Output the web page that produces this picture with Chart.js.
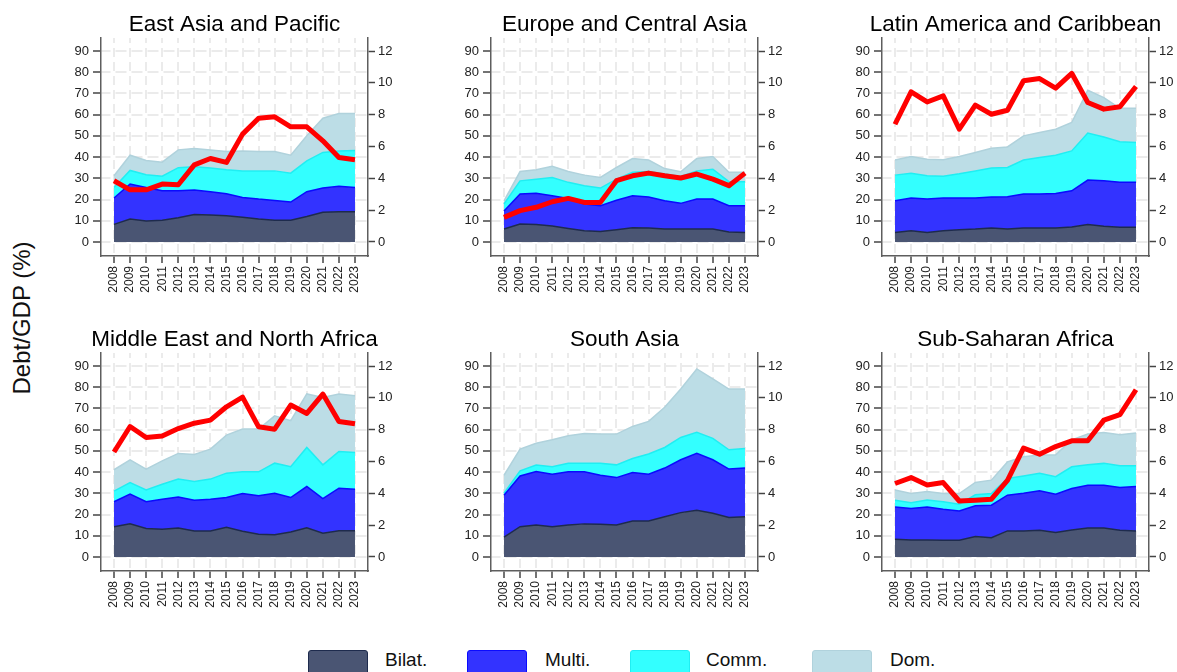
<!DOCTYPE html>
<html>
<head>
<meta charset="utf-8">
<script src="https://cdn.jsdelivr.net/npm/chart.js@4.4.1/dist/chart.umd.min.js"></script>
<style>
  body { margin: 0; background: #fff; width: 1177px; height: 672px; overflow: hidden; position: relative;
         font-family: "Liberation Sans", Arial, sans-serif; }
  canvas { position: absolute; }
  .ytitle { position: absolute; left: 22px; top: 318px; transform: translate(-50%, -50%) rotate(-90deg);
            font-size: 24px; white-space: nowrap; color: #111; }
  .leg-box { position: absolute; top: 650px; width: 60px; height: 30px; border: 1.5px solid; border-radius: 3px; box-sizing: border-box; }
  .leg-text { position: absolute; top: 649px; font-size: 19px; line-height: 22px; color: #111; white-space: nowrap; }
</style>
</head>
<body>
<div class="ytitle">Debt/GDP (%)</div>
<script>
// ---- data ----
const years = [2008, 2009, 2010, 2011, 2012, 2013, 2014, 2015, 2016, 2017, 2018, 2019, 2020, 2021, 2022, 2023];
const leftTicks = [0, 10, 20, 30, 40, 50, 60, 70, 80, 90];
const rightTicks = [0, 2, 4, 6, 8, 10, 12];
const seriesNames = ['Bilat.', 'Multi.', 'Comm.', 'Dom.'];
const regionNames = ['East Asia and Pacific', 'Europe and Central Asia', 'Latin America and Caribbean',
                     'Middle East and North Africa', 'South Asia', 'Sub-Saharan Africa'];

// East Asia and Pacific
const eapBilat = [8.3, 10.8, 9.9, 10.2, 11.4, 13.0, 12.7, 12.4, 11.6, 10.8, 10.3, 10.3, 12.0, 14.0, 14.3, 14.3];
const eapMulti = [12.4, 16.5, 15.8, 13.9, 12.7, 11.5, 11.0, 10.3, 9.4, 9.4, 9.3, 8.5, 11.7, 11.4, 11.9, 11.4];
const eapComm  = [5.0, 6.4, 6.0, 6.9, 10.9, 10.9, 11.1, 11.3, 12.5, 13.3, 13.9, 13.6, 14.5, 16.8, 16.7, 17.4];
const eapDom   = [5.5, 7.2, 6.7, 6.6, 8.4, 8.6, 8.5, 8.6, 9.4, 9.1, 9.1, 8.5, 11.8, 16.1, 17.6, 17.4];
const eapLine  = [3.85, 3.28, 3.28, 3.64, 3.6, 4.85, 5.25, 5.0, 6.78, 7.78, 7.87, 7.24, 7.24, 6.36, 5.31, 5.17];

// Europe and Central Asia
const ecaBilat = [6.1, 8.5, 8.2, 7.5, 6.4, 5.3, 4.9, 5.8, 6.7, 6.6, 6.1, 6.1, 6.1, 6.1, 4.7, 4.5];
const ecaMulti = [8.5, 14.1, 14.8, 14.3, 14.1, 12.6, 12.2, 13.9, 15.1, 14.6, 13.3, 12.1, 14.1, 14.1, 12.4, 12.6];
const ecaComm  = [3.3, 6.2, 6.6, 8.6, 7.6, 8.6, 8.3, 9.9, 11.0, 12.0, 12.6, 12.7, 13.3, 14.1, 11.3, 11.3];
const ecaDom   = [1.5, 4.4, 4.4, 5.3, 5.1, 5.0, 5.0, 5.5, 6.5, 5.4, 2.6, 2.2, 5.8, 6.0, 4.4, 4.4];
const ecaLine  = [1.55, 1.97, 2.18, 2.53, 2.74, 2.49, 2.49, 3.85, 4.16, 4.33, 4.16, 4.02, 4.27, 3.95, 3.54, 4.33];

// Latin America and Caribbean
const lacBilat = [4.5, 5.3, 4.5, 5.3, 5.8, 6.1, 6.6, 6.1, 6.6, 6.6, 6.6, 7.1, 8.2, 7.4, 6.9, 6.9];
const lacMulti = [14.9, 15.4, 15.7, 15.4, 14.9, 14.6, 14.6, 15.2, 16.0, 16.0, 16.3, 17.0, 21.0, 21.4, 21.3, 21.3];
const lacComm  = [12.1, 11.7, 11.0, 10.3, 11.4, 12.7, 13.6, 13.8, 16.0, 17.2, 18.0, 18.8, 22.1, 20.7, 19.0, 18.7];
const lacDom   = [7.1, 7.9, 7.8, 7.7, 8.2, 8.8, 9.4, 9.7, 11.4, 11.8, 12.2, 13.4, 20.2, 18.5, 15.8, 16.1];
const lacLine  = [7.4, 9.44, 8.8, 9.18, 7.09, 8.6, 8.03, 8.28, 10.13, 10.27, 9.67, 10.6, 8.77, 8.35, 8.5, 9.77];

// Middle East and North Africa
const mnaBilat = [14.2, 15.7, 13.4, 13.1, 13.7, 12.3, 12.3, 14.0, 12.1, 10.7, 10.5, 11.8, 13.8, 11.2, 12.4, 12.4];
const mnaMulti = [11.8, 13.9, 12.6, 14.1, 14.6, 14.4, 14.9, 14.0, 17.8, 18.1, 19.5, 16.2, 19.4, 16.3, 20.0, 19.5];
const mnaComm  = [5.0, 5.5, 5.6, 7.1, 8.4, 8.9, 9.5, 11.5, 10.2, 11.3, 14.2, 14.5, 18.4, 15.9, 17.3, 17.3];
const mnaDom   = [10.1, 10.7, 9.8, 11.0, 12.1, 12.7, 14.1, 17.9, 20.2, 20.2, 22.3, 21.7, 25.2, 31.8, 27.1, 26.8];
const mnaLine  = [6.6, 8.2, 7.51, 7.61, 8.07, 8.41, 8.6, 9.44, 10.05, 8.18, 8.03, 9.55, 9.02, 10.24, 8.52, 8.37];

// South Asia
const sarBilat = [9.4, 14.3, 15.1, 14.3, 15.1, 15.6, 15.4, 15.1, 17.0, 17.0, 19.0, 20.9, 22.0, 20.6, 18.6, 18.9];
const sarMulti = [19.7, 23.9, 25.2, 24.7, 25.0, 24.5, 23.1, 22.3, 22.8, 22.0, 22.9, 24.9, 26.8, 25.2, 22.8, 23.0];
const sarComm  = [0.9, 2.4, 3.0, 3.5, 4.1, 4.1, 5.7, 6.0, 6.6, 9.5, 9.7, 10.5, 9.9, 10.1, 9.1, 9.2];
const sarDom   = [8.5, 10.2, 10.3, 12.7, 12.9, 14.0, 13.7, 14.5, 15.1, 15.4, 18.9, 22.8, 29.9, 28.0, 28.6, 28.0];

// Sub-Saharan Africa
const ssaBilat = [8.3, 8.0, 8.0, 7.9, 7.9, 9.6, 9.1, 12.3, 12.3, 12.6, 11.5, 12.7, 13.7, 13.7, 12.6, 12.3];
const ssaMulti = [15.3, 14.8, 15.6, 14.6, 13.8, 14.5, 15.3, 16.8, 17.7, 18.6, 18.1, 19.6, 20.1, 20.1, 20.1, 20.9];
const ssaComm  = [3.1, 2.8, 3.3, 3.5, 3.2, 5.2, 5.5, 7.9, 8.2, 8.3, 8.2, 10.2, 9.6, 10.3, 10.3, 9.8];
const ssaDom   = [4.9, 4.3, 3.9, 3.9, 5.0, 5.8, 6.3, 7.8, 9.0, 8.5, 10.3, 12.7, 14.5, 14.6, 14.6, 15.4];
const ssaLine  = [4.62, 4.99, 4.53, 4.68, 3.52, 3.57, 3.63, 4.82, 6.84, 6.46, 6.94, 7.3, 7.3, 8.6, 8.94, 10.51];

const panels = [
  { title: regionNames[0], stack: [eapBilat, eapMulti, eapComm, eapDom], line: eapLine },
  { title: regionNames[1], stack: [ecaBilat, ecaMulti, ecaComm, ecaDom], line: ecaLine },
  { title: regionNames[2], stack: [lacBilat, lacMulti, lacComm, lacDom], line: lacLine },
  { title: regionNames[3], stack: [mnaBilat, mnaMulti, mnaComm, mnaDom], line: mnaLine },
  { title: regionNames[4], stack: [sarBilat, sarMulti, sarComm, sarDom], line: null },
  { title: regionNames[5], stack: [ssaBilat, ssaMulti, ssaComm, ssaDom], line: ssaLine },
];

// ---- styling & layout ----
const FONT = '"Liberation Sans", Arial, sans-serif';
const fillColors = ['#4a5573', '#3333ff', '#33ffff', '#bcdde6'];
const edgeColors = ['#1e2b4d', '#0a0aff', '#20eef2', '#b0d2dc'];
const lineColor = '#ff0000';
const gridColor = '#ebebeb';
const axisColor = '#5e5e5e';
const tickMarkColor = '#444';
const labelColor = '#222';

const colLeft = [101, 491, 882];
const rowTop = [0, 315];
const AXIS_W = 45, TITLE_H = 38, AREA_W = 267, AREA_H = 218, XAXIS_H = 50;

Chart.defaults.font.family = FONT;

const pts = arr => arr.map((v, i) => ({ x: years[i], y: v }));

panels.forEach((p, idx) => {
  const col = idx % 3, row = Math.floor(idx / 3);
  const cv = document.createElement('canvas');
  cv.width = AREA_W + 2 * AXIS_W;
  cv.height = TITLE_H + AREA_H + XAXIS_H;
  cv.style.left = (colLeft[col] - AXIS_W) + 'px';
  cv.style.top = rowTop[row] + 'px';
  document.body.appendChild(cv);

  const datasets = p.stack.map((arr, k) => ({
    type: 'line',
    label: seriesNames[k],
    data: pts(arr),
    yAxisID: 'y',
    backgroundColor: fillColors[k],
    borderColor: edgeColors[k],
    borderWidth: 1.5,
    fill: k === 0 ? 'origin' : '-1',
    pointRadius: 0,
    tension: 0,
    order: 1
  }));
  if (p.line) {
    datasets.push({
      type: 'line',
      data: pts(p.line),
      yAxisID: 'y2',
      borderColor: lineColor,
      borderWidth: 5,
      borderJoinStyle: 'round',
      fill: false,
      pointRadius: 0,
      tension: 0,
      order: 0
    });
  }

  new Chart(cv, {
    type: 'line',
    data: { datasets },
    options: {
      responsive: false,
      animation: false,
      devicePixelRatio: 1,
      layout: { padding: 0 },
      plugins: {
        legend: { display: false },
        tooltip: { enabled: false },
        title: {
          display: true, text: p.title, color: '#000',
          font: { size: 22.5, weight: 'normal', family: FONT, lineHeight: 1.2 },
          padding: { top: 11, bottom: 0 }
        }
      },
      scales: {
        x: {
          type: 'linear',
          min: years[0] - 0.81,
          max: years[years.length - 1] + 0.81,
          afterBuildTicks: s => { s.ticks = years.map(v => ({ value: v })); },
          afterFit: s => { s.height = XAXIS_H; },
          ticks: {
            autoSkip: false, minRotation: 90, maxRotation: 90, padding: 3,
            color: labelColor, font: { size: 12, family: FONT },
            callback: v => String(v)
          },
          grid: { color: gridColor, lineWidth: 2, tickColor: tickMarkColor, tickWidth: 1.5, tickLength: 7 },
          border: { color: axisColor, width: 1.5, dash: [9, 5], dashOffset: 4 }
        },
        y: {
          position: 'left',
          stacked: true,
          min: -6.6,
          max: 96.1,
          afterBuildTicks: s => { s.ticks = leftTicks.map(v => ({ value: v })); },
          afterFit: s => { s.width = AXIS_W; },
          ticks: { padding: 4, color: labelColor, font: { size: 13, family: FONT } },
          grid: { color: gridColor, lineWidth: 2, tickColor: tickMarkColor, tickWidth: 1.5, tickLength: 8 },
          border: { color: axisColor, width: 1.5, dash: [11, 5], dashOffset: 2 }
        },
        y2: {
          position: 'right',
          min: -0.88,
          max: 12.82,
          afterBuildTicks: s => { s.ticks = rightTicks.map(v => ({ value: v })); },
          afterFit: s => { s.width = AXIS_W; },
          ticks: { padding: 3, color: labelColor, font: { size: 13, family: FONT } },
          grid: { drawOnChartArea: false, tickColor: tickMarkColor, tickWidth: 1.5, tickLength: 7 },
          border: { color: axisColor, width: 1.5 }
        }
      }
    }
  });
});

// ---- shared legend ----
const legendBoxX = [308, 467, 630, 812];
const legendTextX = [385, 545, 706, 890];
seriesNames.forEach((name, k) => {
  const box = document.createElement('div');
  box.className = 'leg-box';
  box.style.left = legendBoxX[k] + 'px';
  box.style.background = fillColors[k];
  box.style.borderColor = edgeColors[k];
  document.body.appendChild(box);
  const txt = document.createElement('div');
  txt.className = 'leg-text';
  txt.style.left = legendTextX[k] + 'px';
  txt.textContent = name;
  document.body.appendChild(txt);
});
</script>
</body>
</html>
